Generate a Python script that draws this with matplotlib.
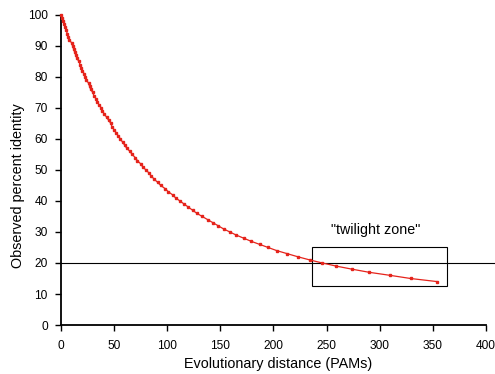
import matplotlib.pyplot as plt
from matplotlib.patches import Rectangle

plt.rc("font", family="Liberation Sans", size=8.6)

# observed percent identity (100 down to 14) and the PAM distance read for each
identity = list(range(100, 13, -1))
pams = [
    0, 1, 2, 3, 4, 5, 6, 7, 8, 10,
    11, 12, 13, 14, 15, 17, 18, 19, 20, 22,
    23, 24, 26, 27, 28, 30, 31, 33, 34, 36,
    38, 39, 41, 43, 45, 47, 48, 50, 52, 54,
    56, 58, 60, 62, 65, 67, 70, 72, 75, 77,
    80, 83, 85, 88, 91, 94, 98, 101, 105, 108,
    112, 116, 120, 124, 128, 133, 138, 143, 148, 153,
    159, 165, 172, 179, 187, 195, 203, 213, 223, 234,
    246, 259, 274, 290, 310, 329, 354,
]
threshold = 20
zone_x = (236, 363)
zone_y = (12.5, 25)
zone_label = '"twilight zone"'

fig = plt.figure(figsize=(4.95, 3.74), dpi=100)
ax = fig.add_axes([0.123, 0.131, 0.859, 0.829])

ax.plot(pams, identity, color="#e5231b", lw=0.9, marker="s", ms=2.1,
        mec="#e5231b", mfc="#e5231b", clip_on=False, zorder=3)

ax.plot([0, 410], [threshold, threshold], color="k", lw=0.8, clip_on=False)
ax.add_patch(Rectangle((zone_x[0], zone_y[0]), zone_x[1] - zone_x[0],
                       zone_y[1] - zone_y[0], fill=False, ec="k", lw=0.8))
ax.text(sum(zone_x) / 2 - 3, zone_y[1] + 5.5, zone_label, ha="center",
        va="center", fontsize=10.3)

ax.set_xlim(0, 400)
ax.set_ylim(0, 100)
ax.set_xticks(range(0, 401, 50))
ax.set_yticks(range(0, 101, 10))
for s in ["top", "right"]:
    ax.spines[s].set_visible(False)
for s in ["left", "bottom"]:
    ax.spines[s].set_linewidth(1.3)
ax.tick_params(direction="out", length=4.5, width=1, pad=5)
ax.tick_params(axis="x", pad=6)
ax.set_xlabel("Evolutionary distance (PAMs)", fontsize=10.4)
ax.set_ylabel("Observed percent identity", fontsize=10.4)
ax.xaxis.set_label_coords(0.512, -0.103)
ax.yaxis.set_label_coords(-0.085, 0.45)

fig.savefig("out.png", dpi=100)
